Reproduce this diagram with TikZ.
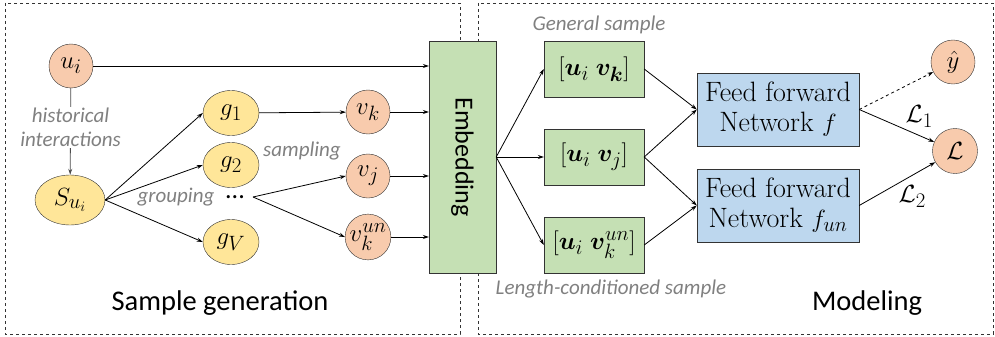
\documentclass[tikz,border=0pt]{standalone}
\usepackage{amsmath}
\usepackage{bm}
\usepackage{fontspec}
\newfontfamily\calibri{Carlito}
\usetikzlibrary{shapes.geometric,arrows.meta}

\definecolor{orangefill}{HTML}{F8CBAD}
\definecolor{yellowfill}{HTML}{FFE699}
\definecolor{greenfill}{HTML}{C5E0B4}
\definecolor{bluefill}{HTML}{BDD7EE}
\definecolor{notegray}{HTML}{808080}

\tikzset{
    >={Stealth[length=6pt,width=4pt]},
    circnode/.style={circle, draw=black!80, fill=orangefill, minimum size=44pt, inner sep=0pt, font=\fontsize{29}{30}\selectfont},
    grpnode/.style={ellipse, draw=black!80, fill=yellowfill, minimum width=56pt, minimum height=45pt, inner sep=0pt, font=\fontsize{29}{30}\selectfont},
    vecbox/.style={rectangle, draw=black!80, fill=greenfill, minimum width=100pt, minimum height=56pt, inner sep=0pt, font=\fontsize{32}{34}\selectfont},
    ffnbox/.style={rectangle, draw=black!80, fill=bluefill, minimum width=162pt, minimum height=73pt, inner sep=0pt, align=center, font=\fontsize{28}{30}\selectfont},
    notetext/.style={text=notegray, font=\calibri\itshape\fontsize{21}{24}\selectfont},
    parttitle/.style={font=\calibri\fontsize{28.5}{32}\selectfont},
    partframe/.style={draw=black!80, dashed, line width=0.8pt},
    link/.style={->, line width=0.8pt},
    losslabel/.style={inner sep=1pt, font=\fontsize{31}{32}\selectfont},
}

\begin{document}
\begin{tikzpicture}[x=1pt, y=-1pt]
    \useasboundingbox (0,0) rectangle (995,337);
    % the two parts
    \draw[partframe] (5,3) rectangle (460,334);
    \draw[partframe] (478,3) rectangle (993,334);
    \node[parttitle] (gentitle) at (220,303) {Sample generation};
    \node[parttitle] (modtitle) at (867,303) {Modeling};

    % sample generation
    \node[circnode] (ui) at (71,66) {$u_i$};
    \node[grpnode, minimum width=70pt, minimum height=50pt] (sui) at (70,200) {$S_{u_i}$};
    \node[grpnode] (g1) at (231,113) {$g_1$};
    \node[grpnode] (g2) at (231,165) {$g_2$};
    \node[grpnode] (gv) at (231,242) {$g_V$};
    \node[font=\calibri\fontsize{26}{28}\selectfont, inner ysep=2pt, inner xsep=8pt] (dots) at (235,197) {...};
    \node[circnode] (vk) at (368,112) {$v_k$};
    \node[circnode] (vj) at (368,176) {$v_j$};
    \node[circnode] (vkun) at (368,237) {$v_k^{un}$};
    \node[draw=black!80, fill=greenfill, minimum width=67pt, minimum height=232pt] (emb) at (462.5,157) {};
    \node[font=\calibri\fontsize{26}{28}\selectfont, rotate=-90] (embtext) at (emb.center) {Embedding};

    \draw[->, line width=0.8pt, draw=black!70] (ui) -- node[notetext, pos=0.45, fill=white, align=center, inner sep=1pt] (hist) {historical\\interactions} (sui);
    \foreach \g in {g1,g2,gv}
        \draw[link] (sui.east) -- (\g.west);
    \draw[link] (g1) -- (vk);
    \draw[link] (dots.east) -- (vj.west);
    \draw[link] (dots.east) -- (vkun.west);
    \foreach \v in {ui,vk,vj,vkun}
        \draw[link] (\v) -- (\v -| emb.west);
    \node[notetext] (grouping) at (176,197) {grouping};
    \node[notetext] (sampling) at (302,151) {sampling};

    % modeling
    \node[vecbox] (b1) at (594,69) {$[\bm{u}_i\;\bm{v}_{\bm{k}}]$};
    \node[vecbox] (b2) at (594,157) {$[\bm{u}_i\;\bm{v}_j]$};
    \node[vecbox] (b3) at (594,245) {$[\bm{u}_i\;\bm{v}_k^{un}]$};
    \node[notetext] (general) at (599,25) {General sample};
    \node[notetext] (lencond) at (611,289) {Length-conditioned sample};
    \node[ffnbox] (ff1) at (778,109.5) {Feed forward\\Network $f$};
    \node[ffnbox] (ff2) at (778,205.5) {Feed forward\\Network $f_{un}$};
    \node[circnode] (yhat) at (953,62) {$\hat{y}$};
    \node[circnode, minimum size=45pt] (loss) at (955,151) {$\mathcal{L}$};

    \foreach \b in {b1,b2,b3}
        \draw[link] (emb.east) -- (\b.west);
    \draw[link] (b1.east) -- (ff1.west);
    \draw[link] (b2.east) -- (ff1.west);
    \draw[link] (b2.east) -- (ff2.west);
    \draw[link] (b3.east) -- (ff2.west);
    \draw[link, dashed] (ff1.east) -- (yhat);
    \draw[link] (ff1.east) -- node[losslabel, pos=0.6, above right] (l1) {$\mathcal{L}_1$} (loss);
    \draw[link] (ff2.east) -- node[losslabel, pos=0.5, below right] (l2) {$\mathcal{L}_2$} (loss);
\end{tikzpicture}
\end{document}
